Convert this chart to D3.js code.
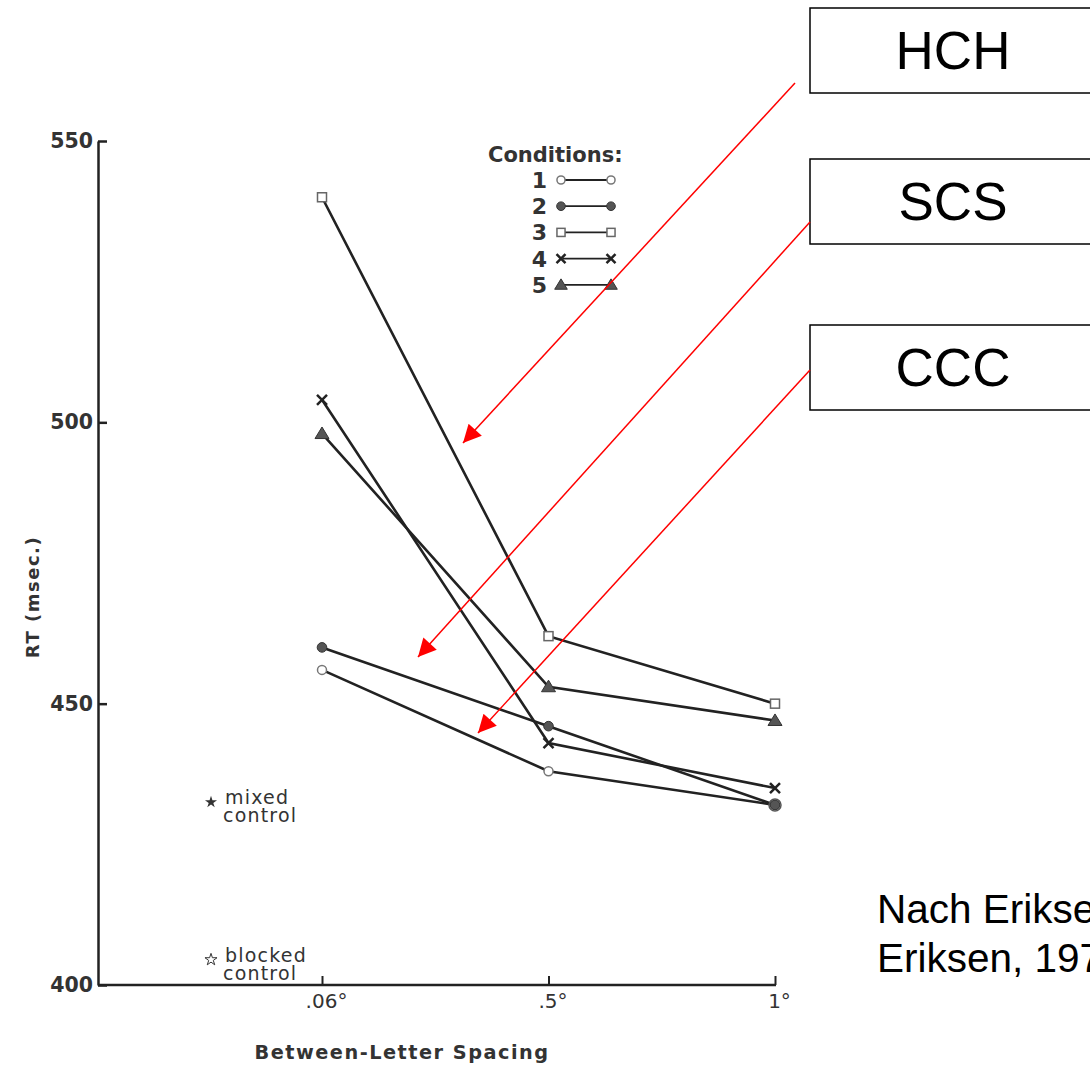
<!DOCTYPE html>
<html><head><meta charset="utf-8">
<script src="https://cdn.jsdelivr.net/npm/d3@7"></script>
<style>
html,body{margin:0;padding:0;background:#fff;overflow:hidden}
svg{display:block}
</style></head>
<body>
<svg id="chart" width="1090" height="1067"></svg>
<script>
// ---- data ----
const spacings = [".06°", ".5°", "1°"];
const conditions = ["1", "2", "3", "4", "5"];
const cond1 = [456, 438, 432];   // open circle
const cond2 = [460, 446, 432];   // filled circle
const cond3 = [540, 462, 450];   // open square
const cond4 = [504, 443, 435];   // cross
const cond5 = [498, 453, 447];   // filled triangle
const yTicks = [400, 450, 500, 550];
const mixedControl = 432.5;
const blockedControl = 404.5;
const boxLabels = ["HCH", "SCS", "CCC"];
const sourceLines = ["Nach Eriksen &", "Eriksen, 1974"];

const series = [
  {name: "1", values: cond1, sym: "ocircle"},
  {name: "2", values: cond2, sym: "fcircle"},
  {name: "3", values: cond3, sym: "square"},
  {name: "4", values: cond4, sym: "cross"},
  {name: "5", values: cond5, sym: "triangle"}
];

const svg = d3.select("#chart");
const ink = "#222";
const font = "'DejaVu Sans', sans-serif";

const x = d3.scalePoint().domain(spacings).range([322, 775]);
const y = d3.scaleLinear().domain([400, 550]).range([985, 141]);
const axisX0 = 98;

// y axis
const gy = svg.append("g").attr("transform", `translate(${axisX0},0)`)
  .call(d3.axisLeft(y).tickValues(yTicks).tickSizeInner(-9).tickSizeOuter(0).tickPadding(5));
gy.select(".domain").attr("stroke", ink).attr("stroke-width", 2.5);
gy.selectAll(".tick line").attr("stroke", ink).attr("stroke-width", 2.5);
gy.selectAll(".tick text").attr("font-family", font).attr("font-size", 20.5).attr("font-weight", "bold").attr("fill", "#333");

// x axis
svg.append("line").attr("x1", axisX0).attr("x2", x("1°") + 1).attr("y1", y(400)).attr("y2", y(400))
  .attr("stroke", ink).attr("stroke-width", 2.5);
const gx = svg.append("g").attr("transform", `translate(0,${y(400)})`)
  .call(d3.axisBottom(x).tickSizeInner(-9).tickSizeOuter(0).tickPadding(9));
gx.select(".domain").remove();
gx.selectAll(".tick line").attr("stroke", ink).attr("stroke-width", 2);
gx.selectAll(".tick text").attr("font-family", font).attr("font-size", 20).attr("fill", "#333").attr("dx", 4);

// axis titles
svg.append("text").attr("transform", `translate(39,597) rotate(-90)`)
  .attr("text-anchor", "middle").attr("font-family", font).attr("font-size", 18).attr("fill", "#333")
  .attr("font-weight", "bold").attr("letter-spacing", 1.5).text("RT (msec.)");
svg.append("text").attr("x", 402).attr("y", 1059).attr("text-anchor", "middle")
  .attr("font-family", font).attr("font-size", 19.3).attr("font-weight", "bold").attr("fill", "#333")
  .attr("letter-spacing", 1.5).text("Between-Letter Spacing");

// symbols
function drawSym(g, sym, cx, cy, s) {
  s = s || 1;
  if (sym === "ocircle") {
    g.append("circle").attr("cx", cx).attr("cy", cy).attr("r", 4.5*s).attr("fill", "#fff").attr("stroke", "#777").attr("stroke-width", 1.5);
  } else if (sym === "fcircle") {
    g.append("circle").attr("cx", cx).attr("cy", cy).attr("r", 4.8*s).attr("fill", "#555").attr("stroke", "#333").attr("stroke-width", 1);
  } else if (sym === "square") {
    g.append("rect").attr("x", cx-4.5*s).attr("y", cy-4.5*s).attr("width", 9*s).attr("height", 9*s).attr("fill", "#fff").attr("stroke", "#666").attr("stroke-width", 1.5);
  } else if (sym === "cross") {
    const d = 5*s;
    g.append("path").attr("d", `M${cx-d},${cy-d}L${cx+d},${cy+d}M${cx-d},${cy+d}L${cx+d},${cy-d}`).attr("stroke", ink).attr("stroke-width", 2.5);
  } else if (sym === "triangle") {
    const h = 11*s, w = 7*s;
    g.append("path").attr("d", `M${cx},${cy-h*0.6}L${cx+w},${cy+h*0.45}L${cx-w},${cy+h*0.45}Z`).attr("fill", "#555").attr("stroke", "#333").attr("stroke-width", 1);
  }
}

// lines
const line = d3.line().x((d, i) => x(spacings[i])).y(d => y(d));
const gl = svg.append("g");
series.forEach(s => {
  gl.append("path").datum(s.values).attr("d", line).attr("fill", "none")
    .attr("stroke", ink).attr("stroke-width", 2.6);
});
const gm = svg.append("g");
series.forEach(s => {
  s.values.forEach((v, i) => drawSym(gm, s.sym, x(spacings[i]), y(v)));
});
// overlapped marker at 1° (conditions 1 & 2)
gm.append("circle").attr("cx", x("1°")).attr("cy", y(cond1[2])).attr("r", 6).attr("fill", "none").attr("stroke", "#555").attr("stroke-width", 1.5);

// legend
const lg = svg.append("g");
lg.append("text").attr("x", 488).attr("y", 162).attr("font-family", font).attr("font-size", 21)
  .attr("font-weight", "bold").attr("fill", "#333").text("Conditions:");
series.forEach((s, i) => {
  const ly = 180 + i * 26.2;
  lg.append("text").attr("x", 547).attr("y", ly + 8).attr("text-anchor", "end")
    .attr("font-family", font).attr("font-size", 22).attr("font-weight", "bold").attr("fill", "#333").text(s.name);
  lg.append("line").attr("x1", 563).attr("x2", 610).attr("y1", ly).attr("y2", ly).attr("stroke", ink).attr("stroke-width", 1.8);
  drawSym(lg, s.sym, 561, ly, 0.9);
  drawSym(lg, s.sym, 611, ly, 0.9);
});

// controls
const star = d3.symbol().type(d3.symbolStar).size(45);
const gc = svg.append("g");
const ctrlX = 211;
gc.append("path").attr("d", star).attr("transform", `translate(${ctrlX},${y(mixedControl)})`).attr("fill", "#333");
gc.append("path").attr("d", star).attr("transform", `translate(${ctrlX},${y(blockedControl)})`).attr("fill", "#fff").attr("stroke", "#333").attr("stroke-width", 1);
[["mixed", "control", mixedControl], ["blocked", "control", blockedControl]].forEach(c => {
  const t = gc.append("text").attr("font-family", font).attr("font-size", 19).attr("fill", "#333").attr("letter-spacing", 1.2);
  t.append("tspan").attr("x", 225).attr("y", y(c[2]) + 2).text(c[0]);
  t.append("tspan").attr("x", 223).attr("y", y(c[2]) + 20).text(c[1]);
});

// annotation boxes
const boxTops = [8, 159, 325];
const ga = svg.append("g");
boxLabels.forEach((b, i) => {
  ga.append("rect").attr("x", 810).attr("y", boxTops[i]).attr("width", 400).attr("height", 85)
    .attr("fill", "#fff").attr("stroke", "#000").attr("stroke-width", 1.5);
  ga.append("text").attr("x", 953).attr("y", boxTops[i] + 61).attr("text-anchor", "middle")
    .attr("font-family", "'Liberation Sans', Arial, sans-serif").attr("font-size", 53).attr("fill", "#000").text(b);
});

// red arrows
const defs = svg.append("defs");
defs.append("marker").attr("id", "ah").attr("viewBox", "0 0 10 10").attr("refX", 10).attr("refY", 5)
  .attr("markerWidth", 26).attr("markerHeight", 18).attr("markerUnits", "userSpaceOnUse").attr("orient", "auto")
  .append("path").attr("d", "M0,0L10,5L0,10Z").attr("fill", "#f00");
const arrows = [
  [795, 83, 463, 443],
  [810, 222, 418, 657],
  [810, 370, 478, 733]
];
arrows.forEach(a => {
  ga.append("line").attr("x1", a[0]).attr("y1", a[1]).attr("x2", a[2]).attr("y2", a[3])
    .attr("stroke", "#f00").attr("stroke-width", 1.5).attr("marker-end", "url(#ah)");
});

// source
const st = svg.append("text").attr("font-family", "'Liberation Sans', Arial, sans-serif").attr("font-size", 40.5).attr("fill", "#000");
sourceLines.forEach((l, i) => st.append("tspan").attr("x", 877).attr("y", 923 + i * 49).text(l));
</script>
</body></html>
